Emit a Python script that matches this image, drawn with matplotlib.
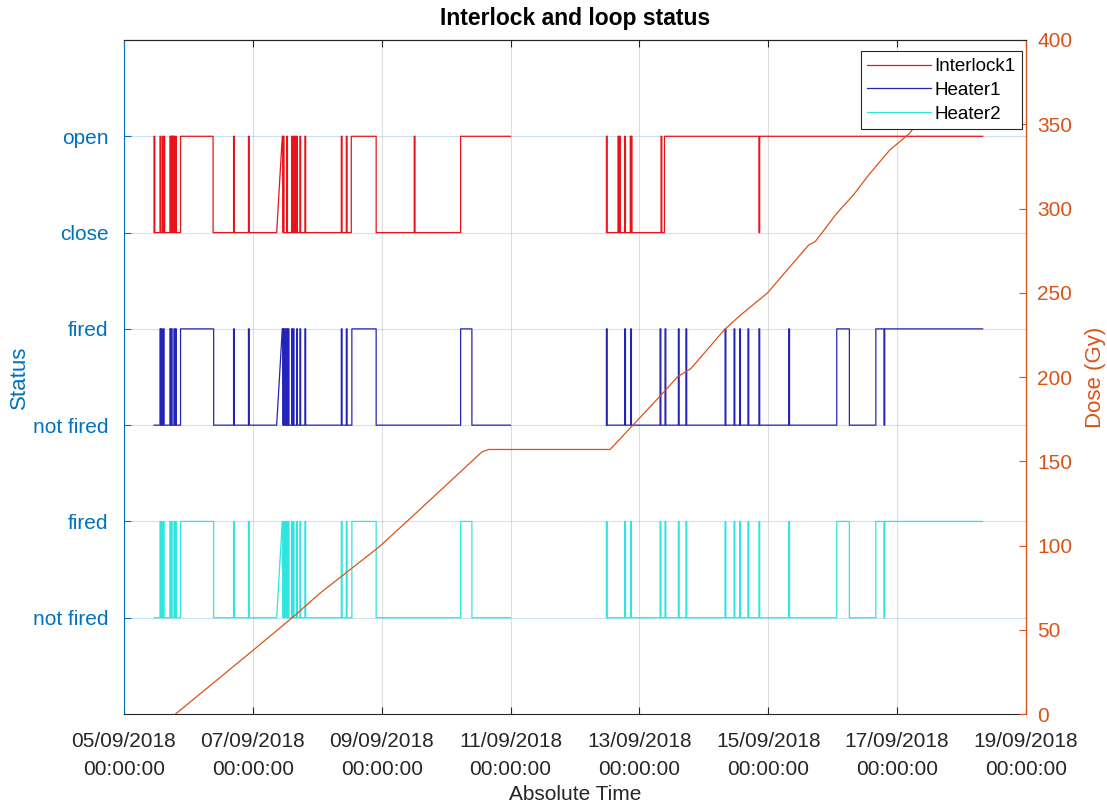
import matplotlib
matplotlib.use("Agg")
import matplotlib.pyplot as plt
import matplotlib.dates as mdates
import numpy as np
import datetime as dt

plt.rcParams["font.family"] = ["Liberation Sans", "DejaVu Sans"]

# times are fractional days of September 2018
# --- Interlock1 (close / open) ---
il_starts = [5.466, 12.488]
il_ends = [10.997, 18.327]
il_edges = [[5.878, 6.383, 8.528, 8.914, 10.225],
            [13.389]]
il_spikes = [[5.466, 5.559, 5.596, 5.620, 5.713, 5.731, 5.747, 5.762, 5.775, 5.801,
              6.701, 6.932, 7.457, 7.472, 7.525, 7.602, 7.627, 7.653, 7.679, 7.730,
              7.808, 8.373, 8.451, 9.505],
             [12.488, 12.668, 12.691, 12.772, 12.858, 12.873, 13.336, 14.855]]
il_ramps = {7.457: 7.370}

# --- Heater1 (not fired / fired) ---
h1_starts = [5.466, 12.488]
h1_ends = [10.997, 18.327]
h1_edges = [[5.878, 6.392, 8.537, 8.914, 10.225, 10.400],
            [16.063, 16.259, 16.670]]
h1_spikes = [[5.559, 5.580, 5.611, 5.713, 5.735, 5.775, 5.801, 6.701, 6.932, 7.457,
              7.472, 7.498, 7.525, 7.549, 7.602, 7.627, 7.679, 7.730, 7.808, 8.373,
              8.451],
             [12.488, 12.772, 12.864, 13.321, 13.398, 13.605, 13.722, 14.330, 14.469,
              14.556, 14.685, 14.855, 15.318, 16.796]]
h1_ramps = {7.457: 7.370}

# --- Heater2 (same switching as Heater1) ---
h2_starts = h1_starts
h2_ends = h1_ends
h2_edges = h1_edges
h2_spikes = h1_spikes
h2_ramps = h1_ramps

# --- Dose ---
dose_days = [5.801, 7.009, 7.627, 8.039, 8.964, 9.582, 10.554, 10.66, 12.545, 12.926,
             13.336, 13.594, 13.799, 14.315, 14.571, 14.983, 15.292, 15.627, 15.728,
             16.063, 16.321, 16.577, 16.886, 17.194, 17.6]
dose_gy = [0, 38, 57.7, 71.6, 99.3, 121, 155.5, 157, 157, 172.5,
           189.3, 200.2, 205, 227.9, 236.8, 249.7, 263.5, 278.3, 280.3,
           297.1, 308, 320.8, 334.7, 344.6, 366]

status_ticks = [1, 2, 3, 4, 5, 6]
status_labels = ["not fired", "fired", "not fired", "fired", "close", "open"]

SPIKE_W = 0.012
T0 = mdates.date2num(dt.datetime(2018, 9, 1)) - 1  # day-of-month -> date number


def build_steps(starts, ends, edges, spikes, ramps, low):
    xs, ys = [], []
    for st, en, ed, sp in zip(starts, ends, edges, spikes):
        toggles = sorted(ed + sp + [s + SPIKE_W for s in sp])
        state = 0
        xs.append(st); ys.append(low)
        for t in toggles:
            xs.append(ramps.get(t, t)); ys.append(low + state)
            state = 1 - state
            xs.append(t); ys.append(low + state)
        xs.append(en); ys.append(low + state)
        xs.append(np.nan); ys.append(np.nan)
    return np.array(xs) + T0, np.array(ys)


fig = plt.figure(figsize=(11.07, 8.08), dpi=100)
ax = fig.add_axes([0.112, 0.1163, 0.8148, 0.8342])
ax2 = ax.twinx()

blue = "#0072BD"
orange = "#D95319"
dark = "#262626"

ax.xaxis_date()
lines = []
for (st, en, ed, sp, rp, low, col, lab) in [
        (il_starts, il_ends, il_edges, il_spikes, il_ramps, 5, "#e8141a", "Interlock1"),
        (h1_starts, h1_ends, h1_edges, h1_spikes, h1_ramps, 3, "#2424b8", "Heater1"),
        (h2_starts, h2_ends, h2_edges, h2_spikes, h2_ramps, 1, "#2ee6e0", "Heater2")]:
    xs, ys = build_steps(st, en, ed, sp, rp, low)
    ln, = ax.plot(xs, ys, color=col, lw=0.9, label=lab)
    lines.append(ln)

ax2.plot(np.array(dose_days) + T0, dose_gy, color=orange, lw=0.9)

ax.set_xlim(mdates.date2num(dt.datetime(2018, 9, 5)), mdates.date2num(dt.datetime(2018, 9, 19)))
ax.set_ylim(0, 7)
ax2.set_ylim(0, 400)

ax.set_yticks(status_ticks)
ax.set_yticklabels(status_labels)
ax2.set_yticks(np.arange(0, 401, 50))

ax.xaxis.set_major_locator(mdates.DayLocator(bymonthday=[5, 7, 9, 11, 13, 15, 17, 19]))
ax.xaxis.set_major_formatter(mdates.DateFormatter("%d/%m/%Y\n%H:%M:%S"))

ax.grid(True, axis="x", color=dark, alpha=0.15, lw=0.8)
ax.grid(True, axis="y", color=blue, alpha=0.2, lw=0.8)

ax.tick_params(axis="x", direction="in", length=5, pad=13, labelsize=15, colors=dark, top=True)
ax.tick_params(axis="y", direction="in", length=5, pad=11, labelsize=15, colors=blue)
ax2.tick_params(axis="y", direction="in", length=5, pad=8, labelsize=15, colors=orange)

ax.spines["left"].set_color(blue)
ax.spines["bottom"].set_color(dark)
ax.spines["top"].set_color(dark)
ax2.spines["right"].set_color(orange)
ax2.spines["left"].set_visible(False)
ax2.spines["top"].set_color(dark)
ax2.spines["bottom"].set_visible(False)

ax.set_ylabel("Status", color=blue, fontsize=16, labelpad=2)
ax2.set_ylabel("Dose (Gy)", color=orange, fontsize=16, labelpad=9)
ax.set_xlabel("Absolute Time", color=dark, fontsize=15, labelpad=4)
ax.set_title("Interlock and loop status", fontsize=16.5, fontweight="bold", pad=11)

leg = ax2.legend(handles=lines, loc="upper right", bbox_to_anchor=(0.996, 0.983),
                 borderaxespad=0, fontsize=13.5, frameon=True, fancybox=False,
                 framealpha=1, edgecolor=dark, handlelength=3.4, handletextpad=0.2,
                 labelspacing=0.35, borderpad=0.35)
leg.get_frame().set_linewidth(0.8)

fig.canvas.draw()
for lbl in ax.get_xticklabels():
    lbl.set_linespacing(1.6)

fig.savefig("out.png", dpi=100)
